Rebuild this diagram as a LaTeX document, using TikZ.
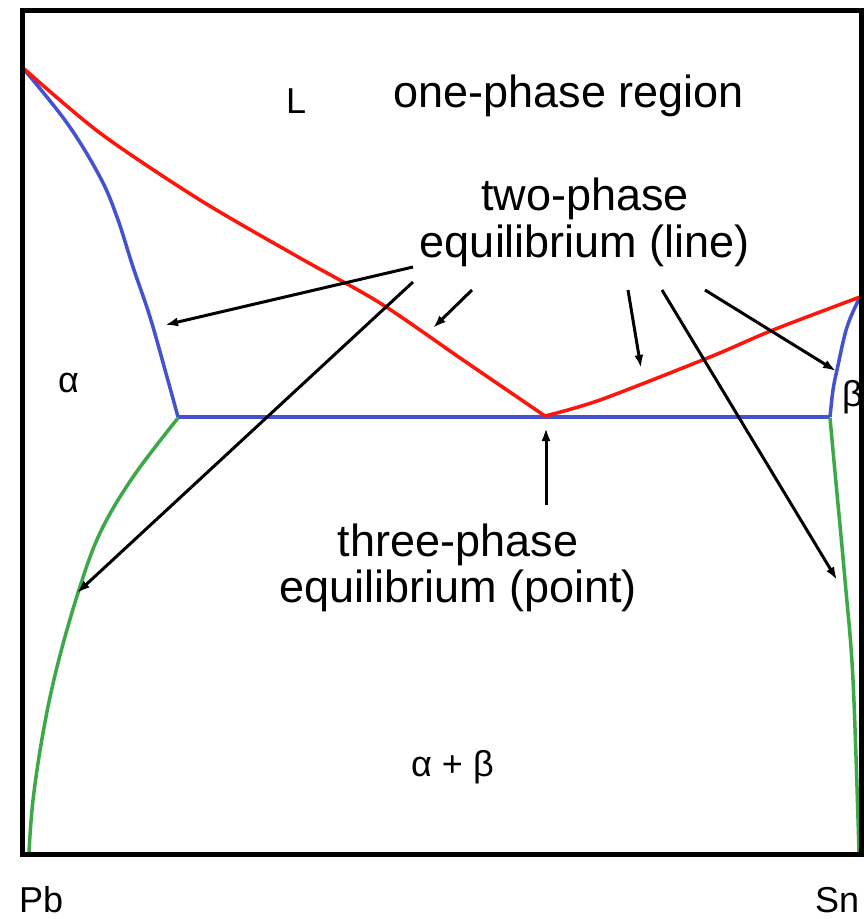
\documentclass[tikz,border=0pt]{standalone}
\usepackage{fontspec}
\setmainfont{Liberation Sans}
\usetikzlibrary{arrows.meta}
\definecolor{pdred}{RGB}{255,20,10}
\definecolor{pdblue}{RGB}{68,82,210}
\definecolor{pdgreen}{RGB}{60,168,72}
\begin{document}
\begin{tikzpicture}[x=1pt,y=-1pt,
  phase/.style={line width=3.5pt, line join=round},
  ptr/.style={line width=3pt, -{Latex[length=13pt,width=9pt]}},
  big/.style={font=\fontsize{45}{50}\selectfont, inner sep=0pt, anchor=base},
  lab/.style={font=\fontsize{36}{40}\selectfont, inner sep=0pt, anchor=base west},
  grk/.style={font=\fontsize{36}{40}\selectfont, inner sep=0pt, anchor=base west},
]
\useasboundingbox (0,0) rectangle (868,919);
\clip (0,0) rectangle (868,919);
\fill[white] (0,0) rectangle (868,919);

% key points
\coordinate (melA) at (22,67);
\coordinate (melB) at (860,297);
\coordinate (eut) at (545,416);
\coordinate (solA) at (178,417);
\coordinate (solB) at (830,417);

% blue solidus / eutectic line
\draw[phase, pdblue] plot[smooth, tension=0.6] coordinates {(22,67) (67,123) (100,177) (117,217) (133,267) (150,317) (167,377) (178,417)};
\draw[phase, pdblue] (solA) -- (solB);
\draw[phase, pdblue] plot[smooth, tension=0.6] coordinates {(830,417) (833,390) (837,370) (847,327) (860,297)};

% green solvus
\draw[phase, pdgreen] plot[smooth, tension=0.6] coordinates {(178,418) (133,477) (100,533) (78,593) (57,667) (43,733) (33,800) (29,852)};
\draw[phase, pdgreen] plot[smooth, tension=0.6] coordinates {(830,418) (836,483) (845,580) (853,680) (859,852)};

% red liquidus
\draw[phase, pdred] plot[smooth, tension=0.5] coordinates {(22,67) (100,133) (200,200) (300,258) (380,303) (463,360) (545,416)};
\draw[phase, pdred] plot[smooth, tension=0.5] coordinates {(545,416) (600,400) (710,357) (773,330) (860,297)};

% texts
\node[big] (one) at (569,107) {one-phase region};
\node[big] (two1) at (585,210) {two-phase};
\node[big] (two2) at (585,257) {equilibrium (line)};
\node[big] (three1) at (458,556) {three-phase};
\node[big] (three2) at (458,602) {equilibrium (point)};
\node[lab] (L) at (286,113) {L};
\node[grk] (alpha) at (58,392) {α};
\node[grk] (beta) at (842,406) {β};
\node[grk] (ab) at (411,776) {α + β};
\node[lab] (Pb) at (19,912) {Pb};
\node[lab] (Sn) at (815,912) {Sn};

% arrows
\coordinate (s1) at (413,267); \coordinate (e1) at (165,325);
\coordinate (s2) at (413,282); \coordinate (e2) at (77,593);
\coordinate (s3) at (472,290); \coordinate (e3) at (433,328);
\coordinate (s4) at (628,290); \coordinate (e4) at (641,368);
\coordinate (s5) at (662,290); \coordinate (e5) at (837,580);
\coordinate (s6) at (705,290); \coordinate (e6) at (836,371);
\coordinate (s7) at (546,505); \coordinate (e7) at (546,428);
\draw[ptr] (s1) -- (e1);
\draw[ptr] (s2) -- (e2);
\draw[ptr] (s3) -- (e3);
\draw[ptr] (s4) -- (e4);
\draw[ptr] (s5) -- (e5);
\draw[ptr] (s6) -- (e6);
\draw[ptr] (s7) -- (e7);

% frame
\draw[line width=5pt] (22,10) rectangle (861,854);
\end{tikzpicture}
\end{document}
